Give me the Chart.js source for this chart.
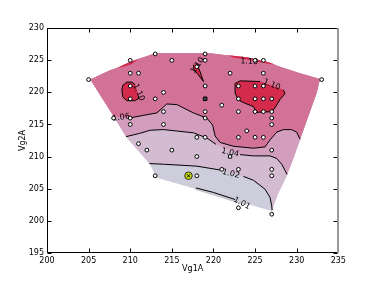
<!DOCTYPE html>
<html>
<head>
<meta charset="utf-8">
<script src="https://cdn.jsdelivr.net/npm/chart.js@4.4.0/dist/chart.umd.min.js"></script>
<style>
  html, body { margin: 0; padding: 0; background: #fff; }
</style>
</head>
<body>
<canvas id="contour" width="376" height="282"></canvas>
<script>
// Tick values of both axes
const X_TICKS = [200, 205, 210, 215, 220, 225, 230, 235];
const Y_TICKS = [195, 200, 205, 210, 215, 220, 225, 230];

// Measured (Vg1A, Vg2A) sample points
const SAMPLES = [
    [205, 222], [213, 226], [219, 226], [210, 225], [215, 225], [219, 225], [225, 225], [226, 225],
    [218, 224], [210, 223], [211, 223], [222, 223], [226, 223], [233, 222], [210, 221], [219, 221],
    [223, 221], [225, 221], [226, 221], [214, 220], [210, 219], [213, 219], [223, 219], [225, 219],
    [226, 219], [227, 219], [221, 218], [214, 217], [219, 217], [223, 217], [225, 217], [226, 217],
    [227, 217], [208, 216], [210, 216], [219, 216], [227, 216], [210, 215], [214, 215], [227, 215],
    [224, 214], [218, 213], [219, 213], [223, 213], [225, 213], [226, 213], [211, 212], [212, 211],
    [215, 211], [227, 211], [218, 210], [221, 208], [223, 208], [227, 208], [213, 207], [218, 207],
    [227, 207], [223, 202], [227, 201]
];
const BEST_POINT = [[217, 207]];
const START_POINT = [[219, 219]];
const SQUARE_POINT = [[222, 210]];

// Edge of the interpolated domain
const DOMAIN_TOP = [[205.2, 222.0], [207.5, 223.4], [208.8, 224.0], [210.0, 224.8], [213.0, 226.1],
    [219.6, 226.1], [221.6, 225.8], [224.0, 225.5], [226.6, 224.7], [228.0, 224.0], [230.4, 223.0], [232.8, 222.1]];
const DOMAIN_RIGHT = [[232.8, 222.1], [232.4, 219.9], [231.4, 216.3], [230.4, 212.6], [229.4, 209.0],
    [228.6, 206.4], [227.8, 204.3], [227.2, 202.3], [227.0, 201.5]];
const DOMAIN_LEFT = [[213.2, 206.7], [212.3, 208.9], [209.5, 213.1], [208.0, 216.3], [205.2, 222.0]];

// Contour lines (split where a label sits on them)
const C101 = [[217.9, 205.1], [220.0, 204.4], [222.6, 203.3]];
const C102_A = [[212.3, 208.9], [214.0, 208.8], [218.0, 208.5], [220.8, 207.9]];
const C102_B = [[223.6, 206.9], [224.8, 206.3], [226.2, 204.9], [226.8, 203.6], [227.0, 202.3], [227.05, 201.6]];
const C104_A = [[209.5, 213.1], [211.1, 213.6], [212.4, 214.1], [214.0, 214.2], [217.6, 213.7], [219.2, 212.9], [220.3, 211.9]];
const C104_B = [[223.2, 210.3], [224.8, 210.1], [226.8, 210.1], [227.6, 209.7], [228.2, 208.8], [228.85, 207.2]];
const C106 = [[209.9, 216.0], [211.5, 216.4], [213.2, 216.8], [214.4, 218.2], [215.6, 218.1], [217.6, 216.8],
    [219.2, 216.0], [219.9, 214.9], [220.2, 213.2], [220.8, 212.2], [222.4, 211.6], [224.8, 211.3], [226.2, 211.5],
    [226.8, 212.6], [227.6, 213.8], [228.4, 214.2], [229.4, 214.2], [230.0, 213.8], [230.4, 212.7]];

// Areas above 1.10
const RED_LEFT = [[211.0, 219.4], [211.0, 219.0], [210.5, 218.7], [209.6, 218.7], [209.1, 219.3], [209.0, 220.4],
    [209.1, 221.1], [209.6, 221.6], [210.2, 221.6], [210.6, 221.2]];
const RED_WEDGE = [[218.0, 224.5], [218.4, 223.2], [218.8, 221.7], [218.2, 222.7], [217.6, 223.7], [217.6, 224.3]];
const RED_RIGHT = [[228.4, 220.4], [228.6, 219.8], [228.0, 218.9], [227.4, 217.6], [227.0, 217.0], [225.2, 216.9],
    [224.8, 217.8], [223.8, 218.3], [223.0, 218.8], [222.6, 219.9], [222.6, 221.4], [223.2, 221.8], [225.6, 221.7]];
const RED_TOP = [[221.8, 225.8], [224.0, 225.5], [226.6, 224.7], [227.4, 224.35], [226.4, 224.5], [224.0, 225.15], [222.4, 225.4]];
const RED_TOPLEFT = [[208.4, 223.8], [209.2, 224.3], [210.0, 224.75], [211.0, 225.2], [210.2, 224.45], [209.2, 224.0]];

// Contour labels
const LABEL_TEXT = ['1.06', '1.04', '1.02', '1.01', '1.10', '1.10', '1.10', '1.10'];
const LABEL_X = [208.9, 222.0, 222.1, 223.4, 211.0, 218.1, 224.3, 227.0];
const LABEL_Y = [216.1, 210.6, 207.3, 202.7, 220.0, 224.2, 224.8, 221.2];

// styles
const LABEL_ANGLE = [-8, 12, 14, 28, 65, -55, 3, 22];
const COL_101 = '#c6c6ce';
const COL_LOW = '#cdcddc';
const COL_102 = '#d3bbd1';
const COL_104 = '#d39dbe';
const COL_106 = '#d17296';
const COL_110 = '#d42a4b';

const toXY = pts => pts.map(([x, y]) => ({ x, y }));

// polygon for the part of the domain above a contour running left edge -> right edge
function regionAbove(line) {
    const yL = line[0][1];
    const yR = line[line.length - 1][1];
    const right = DOMAIN_RIGHT.filter(p => p[1] > yR).reverse();
    const top = DOMAIN_TOP.slice().reverse();
    const left = DOMAIN_LEFT.filter(p => p[1] > yL).reverse();
    return [...line, ...right, ...top, ...left];
}

const DOMAIN = [...DOMAIN_TOP, ...DOMAIN_RIGHT, ...DOMAIN_LEFT];
const BELOW_101 = [...C101, [224.4, 202.3], [222.6, 202.85], [217.7, 204.85]];

function area(pts, color, stroke) {
    return {
        type: 'line', data: toXY(pts), fill: 'shape', backgroundColor: color,
        borderColor: stroke ? '#000' : 'transparent', borderWidth: stroke ? 1 : 0,
        pointRadius: 0, tension: 0,
    };
}
function curve(pts) {
    return { type: 'line', data: toXY(pts), fill: false, borderColor: '#000', borderWidth: 1, pointRadius: 0, tension: 0 };
}
function marks(pts, opts) {
    return Object.assign({ type: 'line', data: toXY(pts), showLine: false, fill: false }, opts);
}

const datasets = [
    area(DOMAIN, COL_LOW),
    area(BELOW_101, COL_101),
    area(regionAbove([...C102_A, ...C102_B]), COL_102),
    area(regionAbove([...C104_A, ...C104_B]), COL_104),
    area(regionAbove(C106), COL_106),
    area(RED_TOP, COL_110),
    area(RED_TOPLEFT, COL_110),
    area(RED_LEFT, COL_110, true),
    area(RED_WEDGE, COL_110, true),
    area(RED_RIGHT, COL_110, true),
    curve(C101), curve(C102_A), curve(C102_B), curve(C104_A), curve(C104_B), curve(C106),
    marks(SAMPLES, { pointRadius: 1.9, pointBackgroundColor: '#fff', pointBorderColor: '#000', pointBorderWidth: 1 }),
    marks(SQUARE_POINT, { pointStyle: 'rect', pointRadius: 2.3, pointBackgroundColor: '#fff', pointBorderColor: '#000', pointBorderWidth: 1 }),
    marks(START_POINT, { pointStyle: 'rect', pointRadius: 2.5, pointBackgroundColor: '#444', pointBorderColor: '#000', pointBorderWidth: 1 }),
    marks(BEST_POINT, { pointRadius: 3.8, pointBackgroundColor: '#c3d400', pointBorderColor: '#333', pointBorderWidth: 1 }),
    marks(BEST_POINT, { pointStyle: 'crossRot', pointRadius: 2, pointBorderColor: '#000', pointBorderWidth: 1 }),
];
datasets.forEach((d, i) => { d.order = -i; });
const LAST_CONTOUR = 15;

const decorations = {
    id: 'decorations',
    afterDatasetDraw(chart, args) {
        if (args.index !== LAST_CONTOUR) return;
        const { ctx, scales: { x, y } } = chart;
        ctx.save();
        ctx.font = '8px "DejaVu Sans"';
        ctx.fillStyle = '#000';
        ctx.textAlign = 'center';
        ctx.textBaseline = 'middle';
        LABEL_TEXT.forEach((t, i) => {
            ctx.save();
            ctx.translate(x.getPixelForValue(LABEL_X[i]), y.getPixelForValue(LABEL_Y[i]));
            ctx.rotate(LABEL_ANGLE[i] * Math.PI / 180);
            ctx.fillText(t, 0, 0);
            ctx.restore();
        });
        ctx.restore();
    },
    afterDraw(chart) {
        const { ctx, chartArea: a, scales: { x, y } } = chart;
        const L = Math.round(a.left) + 0.5, R = Math.round(a.right) - 0.5;
        const T = Math.round(a.top) + 0.5, B = Math.round(a.bottom) - 0.5;
        ctx.save();
        ctx.strokeStyle = '#000';
        ctx.lineWidth = 1;
        ctx.beginPath();
        ctx.moveTo(R, T); ctx.lineTo(L, T); ctx.lineTo(L, B); ctx.lineTo(R, B);
        // inward ticks
        X_TICKS.forEach(v => {
            const px = Math.round(x.getPixelForValue(v)) + 0.5;
            ctx.moveTo(px, B); ctx.lineTo(px, B - 4);
            ctx.moveTo(px, T); ctx.lineTo(px, T + 4);
        });
        Y_TICKS.forEach(v => {
            const py = Math.round(y.getPixelForValue(v)) + 0.5;
            ctx.moveTo(L, py); ctx.lineTo(L + 4, py);
            ctx.moveTo(R, py); ctx.lineTo(R - 4, py);
        });
        ctx.stroke();
        ctx.strokeStyle = '#999';
        ctx.lineWidth = 2;
        ctx.beginPath();
        ctx.moveTo(R + 0.5, T - 0.5); ctx.lineTo(R + 0.5, B + 0.5);
        ctx.stroke();
        ctx.restore();
    },
};

Chart.defaults.font.family = '"DejaVu Sans", sans-serif';
Chart.defaults.font.size = 8;
Chart.defaults.color = '#000';

new Chart(document.getElementById('contour'), {
    type: 'line',
    data: { datasets },
    options: {
        responsive: false,
        animation: false,
        events: [],
        layout: { padding: { left: 18, top: 28.3, right: 37.7, bottom: 0 } },
        plugins: { legend: { display: false }, tooltip: { enabled: false } },
        scales: {
            x: {
                type: 'linear', min: 200, max: 235,
                afterBuildTicks: s => { s.ticks = X_TICKS.map(v => ({ value: v })); },
                afterFit: s => { s.height = 29.3; },
                grid: { display: false, drawTicks: false },
                border: { display: false },
                ticks: { padding: 3, maxRotation: 0, autoSkip: false, color: '#000' },
                title: { display: true, text: 'Vg1A', color: '#000', padding: { top: 0, bottom: 8.7 } },
            },
            y: {
                type: 'linear', min: 195, max: 230,
                afterBuildTicks: s => { s.ticks = Y_TICKS.map(v => ({ value: v })); },
                afterFit: s => { s.width = 29; },
                grid: { display: false, drawTicks: false },
                border: { display: false },
                ticks: { padding: 3, autoSkip: false, color: '#000' },
                title: { display: true, text: 'Vg2A', color: '#000', padding: { top: 0, bottom: 0 } },
            },
        },
    },
    plugins: [decorations],
});
</script>
</body>
</html>
